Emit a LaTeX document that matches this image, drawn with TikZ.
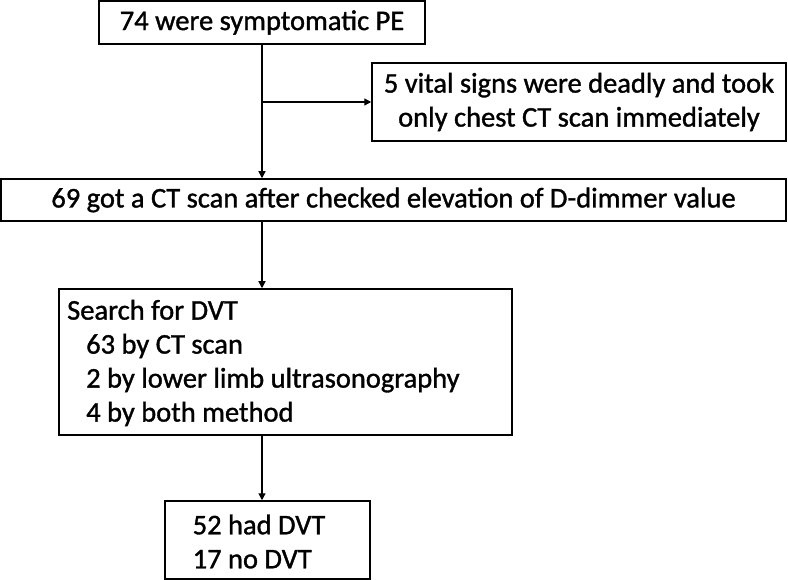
\documentclass[tikz,border=0pt]{standalone}
\usepackage{fontspec}
\setmainfont{Carlito}[RawFeature={embolden=1.2}]
\usetikzlibrary{arrows.meta}
\begin{document}
\begin{tikzpicture}[x=1pt,y=-1pt,
  box/.style={draw=black,line width=1.5pt,rectangle,inner sep=0pt,font=\fontsize{28.5}{34}\selectfont},
  txt/.style={inner sep=0pt,align=left,anchor=west,font=\fontsize{28.5}{34}\selectfont},
  conn/.style={line width=1.3pt,-{Triangle[length=7pt,width=7pt]}}]
\useasboundingbox (0,0) rectangle (788,580);
\node[box,minimum width=326pt,minimum height=43pt] (b1) at (262,22.5) {74 were symptomatic PE};
\node[box,minimum width=414pt,minimum height=78pt,align=center] (b2) at (579,102) {5 vital signs were deadly and took\\only chest CT scan immediately};
\node[box,minimum width=785pt,minimum height=42pt] (b3) at (393.5,200) {69 got a CT scan after checked elevation of D-dimmer value};
\node[box,minimum width=453pt,minimum height=146pt] (b4) at (285.5,362) {};
\node[txt] (t4) at (67,363) {Search for DVT\\\hspace*{19pt}63 by CT scan\\\hspace*{19pt}2 by lower limb ultrasonography\\\hspace*{19pt}4 by both method};
\node[box,minimum width=205pt,minimum height=78pt] (b5) at (267.5,540) {};
\node[txt] (t5) at (192.5,541.5) {52 had DVT\\17 no DVT};
\coordinate (j) at (b1.south |- b2.west);
\draw[conn] (b1.south) -- (b3.north -| b1.south);
\draw[conn] (j) -- (b2.west);
\draw[conn] (b3.south -| b1.south) -- (b4.north -| b1.south);
\draw[conn] (b4.south -| b1.south) -- (b5.north -| b1.south);
\end{tikzpicture}
\end{document}
